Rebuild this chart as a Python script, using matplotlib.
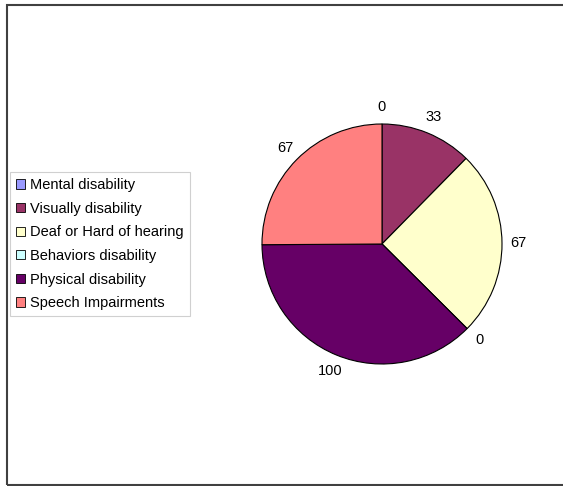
import matplotlib
matplotlib.use('Agg')
import matplotlib.pyplot as plt
from matplotlib.patches import Rectangle

plt.rcParams['font.family'] = 'Liberation Sans'

categories = ['Mental disability', 'Visually disability', 'Deaf or Hard of hearing',
              'Behaviors disability', 'Physical disability', 'Speech Impairments']
values = [0, 33, 67, 0, 100, 67]
colors = ['#9999FF', '#993366', '#FFFFCC', '#CCFFFF', '#660066', '#FF8080']

W, H = 563, 486
fig = plt.figure(figsize=(W / 100, H / 100), dpi=100)
fig.set_facecolor('white')

# pie area: centre (382, 244) px, radius 120 px
ax = fig.add_axes([202 / W, (H - 424) / H, 360 / W, 360 / H])
wedges, texts = ax.pie(values, colors=colors, startangle=90, counterclock=False,
                       labels=[str(v) for v in values], labeldistance=1.14,
                       wedgeprops=dict(edgecolor='black', linewidth=0.8))
for t in texts:
    t.set_ha('center')
    t.set_va('center')
    t.set_fontsize(10.5)
ax.set_xlim(-1.5, 1.5)
ax.set_ylim(-1.5, 1.5)
ax.set_aspect('equal')
ax.axis('off')

leg = fig.legend(wedges, categories, loc='upper left',
                 bbox_to_anchor=(10 / W, 1 - 172 / H), fontsize=10.5,
                 handlelength=0.6, handleheight=0.6, handletextpad=0.35,
                 labelspacing=0.66, borderpad=0.42, borderaxespad=0,
                 fancybox=False, framealpha=1)
leg.get_frame().set_edgecolor('#d0d0d0')
leg.get_frame().set_linewidth(0.8)
for h in leg.legend_handles:
    h.set_edgecolor('black')
    h.set_linewidth(0.6)

# chart frame
fig.add_artist(Rectangle((7 / W, 1 - 485 / H), 600 / W, 480 / H,
                         transform=fig.transFigure, fill=False,
                         edgecolor='#404040', linewidth=1.5))

fig.savefig('out.png', dpi=100)
